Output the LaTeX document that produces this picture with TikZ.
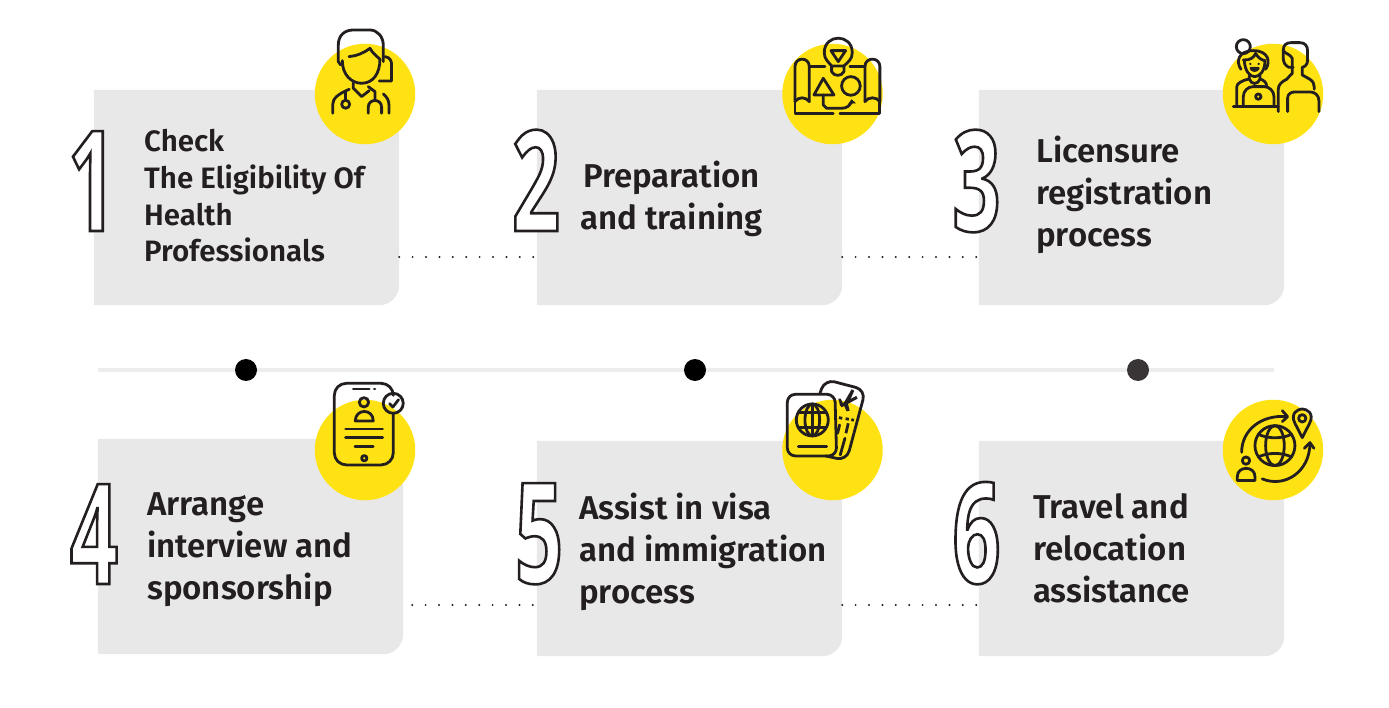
\documentclass[tikz,border=0pt]{standalone}
\usepackage{fontspec}
\setmainfont{Fira Sans}[BoldFont=* SemiBold]
\newfontfamily\digitfont{Open Sans}[FakeStretch=0.6]
\definecolor{ink}{HTML}{231F20}
\definecolor{cardgray}{HTML}{E8E8E9}
\definecolor{sun}{HTML}{FFE213}
\definecolor{railgray}{HTML}{EDEDEE}
% hollow numerals: fill white, stroke ink
\newcommand{\hollowdigit}[1]{{\fontsize{140}{140}\digitfont\bfseries\special{pdf:code 2 Tr 2.6 w 0.137 0.122 0.125 RG 1 1 1 rg}#1\special{pdf:code 0 Tr}}}
\tikzset{
  card/.style={minimum width=305, minimum height=215, inner sep=0},
  badge/.style={circle, fill=sun, minimum size=100.5, inner sep=0},
  numeral/.style={anchor=base, inner sep=0},
  steptext/.style={anchor=north west, inner sep=0, align=left, text=ink, font=\fontsize{33}{42}\selectfont\bfseries},
  railpoint/.style={circle, fill=black, minimum size=22, inner sep=0},
  dotlink/.style={ink, line width=2.2, line cap=round, dash pattern=on 0pt off 13.4pt},
  iconline/.style={draw=ink, line width=2.8, line cap=round, line join=round},
}
\begin{document}
\begin{tikzpicture}[x=1pt, y=-1pt]
  \useasboundingbox (0,0) rectangle (1389,708);

  % cards
  \node[card] (box1) at (246.5,197.5) {};
  \node[card] (box2) at (689.5,197.5) {};
  \node[card] (box3) at (1131.5,197.5) {};
  \node[card] (box4) at (250.5,546.5) {};
  \node[card] (box5) at (689.5,548.5) {};
  \node[card] (box6) at (1131.5,548.5) {};
  \foreach \b in {box1,box2,box3,box4,box5,box6} {
    \fill[cardgray] (\b.north west) -- (\b.north east)
      [rounded corners=20] -- (\b.south east) [sharp corners] -- (\b.south west) -- cycle;
  }

  % dotted links
  \draw[dotlink] ([yshift=-59.5]box1.east) -- ([yshift=-59.5]box2.west);
  \draw[dotlink] ([yshift=-59.5]box2.east) -- ([yshift=-59.5]box3.west);
  \draw[dotlink, dash phase=4.4] ([yshift=-58.5]box4.east) -- ([yshift=-56.5]box5.west);
  \draw[dotlink] ([yshift=-56.5]box5.east) -- ([yshift=-56.5]box6.west);

  % rail
  \coordinate (railstart) at (98,370);
  \coordinate (railend) at (1274,370);
  \draw[railgray, line width=4] (railstart) -- (railend);
  \node[railpoint] (point1) at (246,370) {};
  \node[railpoint] (point2) at (695,370) {};
  \node[railpoint, fill=ink!90] (point3) at (1138,370) {};

  % badges
  \node[badge] (badge1) at (365,94) {};
  \node[badge] (badge2) at (832.5,94) {};
  \node[badge] (badge3) at (1273,94) {};
  \node[badge] (badge4) at (365,450) {};
  \node[badge] (badge5) at (832.5,450) {};
  \node[badge] (badge6) at (1273,450) {};

  % numerals
  \node[numeral] (num1) at (92,231) {\hollowdigit{1}};
  \node[numeral] (num2) at (536,231) {\hollowdigit{2}};
  \node[numeral] (num3) at (976.5,231) {\hollowdigit{3}};
  \node[numeral] (num4) at (94,584) {\hollowdigit{4}};
  \node[numeral] (num5) at (539,583) {\hollowdigit{5}};
  \node[numeral] (num6) at (976.5,583) {\hollowdigit{6}};

  % step texts
  \node[steptext, font=\fontsize{29.5}{36.8}\selectfont\bfseries] (text1) at (144,129)
    {Check\\The Eligibility Of\\Health\\Professionals};
  \node[steptext, align=center, anchor=north] (text2) at (671.5,161) {Preparation\\and training};
  \node[steptext] (text3) at (1036,136) {Licensure\\registration\\process};
  \node[steptext] (text4) at (147,492) {Arrange\\interview and\\sponsorship};
  \node[steptext] (text5) at (579,492.5) {Assist in visa\\and immigration\\process};
  \node[steptext] (text6) at (1033,493) {Travel and\\relocation\\assistance};

  % doctor icon
  \begin{scope}[shift={(320,20)}, x=0.333pt, y=-0.333pt]
    \draw[iconline] (62,135) -- (55,125) -- (55,75) .. controls (55,45) and (75,30) .. (100,30)
      -- (150,30) .. controls (172,30) and (190,50) .. (190,75) -- (190,125);
    \draw[iconline] (67,122) .. controls (67,165) and (95,190) .. (125,190)
      .. controls (160,190) and (180,160) .. (180,118) .. controls (170,108) and (158,100) .. (150,85)
      .. controls (130,100) and (110,108) .. (87,110);
    \draw[iconline] (195,110) .. controls (210,112) and (215,122) .. (215,135) -- (215,183) -- (178,183);
    \draw[iconline] (38,280) -- (38,255) .. controls (38,235) and (55,222) .. (88,208);
    \draw[iconline] (100,188) -- (100,205) -- (125,230) -- (148,212);
    \draw[iconline] (145,200) -- (165,215) -- (165,240);
    \draw[iconline] (145,280) -- (145,262) .. controls (145,235) and (185,235) .. (185,262) -- (185,280);
    \draw[iconline] (190,222) .. controls (202,232) and (207,242) .. (207,255) -- (207,280);
    \draw[iconline] (76,215) -- (76,240);
    \draw[iconline] (77,253) circle (12);
  \end{scope}

  % plan icon
  \begin{scope}[shift={(770,30)}, x=0.333pt, y=-0.333pt]
    \draw[iconline] (75,215) -- (75,110) .. controls (75,80) and (118,80) .. (118,110) -- (118,215);
    \draw[iconline] (75,215) .. controls (85,200) and (108,200) .. (118,215);
    \draw[iconline] (285,215) -- (285,110) .. controls (285,80) and (330,80) .. (330,110) -- (330,215);
    \draw[iconline] (285,215) .. controls (295,200) and (320,200) .. (330,215);
    \draw[iconline] (75,215) -- (75,250) -- (190,250);
    \draw[iconline] (210,250) -- (330,250) -- (330,215);
    \draw[iconline] (118,110) -- (165,110);
    \draw[iconline] (240,110) -- (285,110);
    \draw[iconline] (185,108) .. controls (175,95) and (163,88) .. (163,68)
      .. controls (163,10) and (247,10) .. (247,68) .. controls (247,88) and (235,95) .. (222,108);
    \draw[iconline] (185,108) -- (222,108) -- (222,125) .. controls (215,140) and (192,140) .. (185,125) -- cycle;
    \draw[iconline] (183,62) -- (227,62) -- (205,95) -- cycle;
    \draw[iconline] (160,145) -- (192,195) -- (132,195) -- cycle;
    \draw[iconline] (243,168) circle (28);
    \draw[iconline] (160,195) -- (160,225) -- (170,235) -- (215,235) .. controls (230,235) and (240,228) .. (245,215);
    \fill[ink] (235,222) -- (245,208) -- (258,220) -- cycle;
  \end{scope}

  % interview icon
  \begin{scope}[shift={(1215,30)}, x=0.333pt, y=-0.333pt]
    \draw[iconline] (85,50) circle (21);
    \draw[iconline] (78,118) .. controls (62,95) and (70,62) .. (115,62) .. controls (160,62) and (168,95) .. (152,118);
    \draw[iconline] (88,92) .. controls (90,125) and (105,140) .. (119,140) .. controls (133,140) and (150,125) .. (150,92);
    \draw[iconline] (85,90) .. controls (105,92) and (118,82) .. (122,70) .. controls (128,82) and (138,90) .. (150,92);
    \fill[ink] (106,102) circle (4);
    \fill[ink] (131,102) circle (4);
    \draw[iconline] (108,115) .. controls (114,124) and (124,124) .. (130,115) -- cycle;
    \draw[iconline] (65,225) -- (65,172) .. controls (65,160) and (80,152) .. (103,147) -- (103,137);
    \draw[iconline] (103,147) .. controls (108,165) and (130,165) .. (135,147) -- (135,137);
    \draw[iconline] (135,147) .. controls (146,150) and (155,158) .. (155,168);
    \draw[iconline, rounded corners=10] (85,230) -- (85,170) -- (177,170) -- (177,230);
    \draw[iconline] (55,230) -- (190,230);
    \draw[iconline] (130,200) circle (8);
    \draw[iconline] (235,112) -- (222,112) .. controls (212,108) and (205,98) .. (205,85) -- (205,60)
      .. controls (205,45) and (215,38) .. (228,38) -- (255,38) .. controls (270,38) and (278,48) .. (278,62)
      -- (278,90) .. controls (278,102) and (272,110) .. (262,112) -- (262,135);
    \draw[iconline] (205,62) .. controls (212,72) and (225,72) .. (232,85) -- (232,130);
    \draw[iconline] (190,245) -- (190,178) .. controls (190,165) and (200,155) .. (215,148) -- (232,130);
    \draw[iconline] (262,135) -- (285,148) .. controls (295,155) and (298,162) .. (298,172) -- (298,178);
    \draw[iconline] (218,245) -- (218,205) .. controls (218,192) and (228,186) .. (240,186) -- (285,186)
      .. controls (300,186) and (312,196) .. (312,212) -- (312,245);
  \end{scope}

  % tablet icon
  \begin{scope}[shift={(310,375)}, x=0.333pt, y=-0.333pt]
    \draw[iconline, rounded corners=12] (250,55) -- (250,25) -- (73,25) -- (73,270) -- (250,270) -- (250,115);
    \draw[iconline] (130,42) -- (178,42);
    \draw[iconline] (193,42) -- (195,42);
    \draw[iconline] (162,82) circle (14);
    \draw[iconline] (136,138) .. controls (136,100) and (190,100) .. (190,138) -- cycle;
    \draw[iconline] (107,162) -- (218,162);
    \draw[iconline] (107,188) -- (218,188);
    \draw[iconline] (135,215) -- (190,215);
    \draw[iconline] (163,250) circle (8);
    \draw[iconline] (250,85) circle (30);
    \draw[iconline] (239,86) -- (249,96) -- (266,74);
  \end{scope}

  % passport icon
  \begin{scope}[shift={(775,370)}, x=0.333pt, y=-0.333pt]
    \draw[iconline, rounded corners=8] (37,73) -- (180,73) -- (185,258) -- (37,258) -- cycle;
    \draw[iconline] (112,150) circle (48);
    \draw[iconline] (112,150) ellipse (22 and 48);
    \draw[iconline] (112,102) -- (112,198);
    \draw[iconline] (70,128) -- (154,128);
    \draw[iconline] (70,172) -- (154,172);
    \draw[iconline] (70,230) -- (155,230);
    \draw[iconline, rounded corners=10] (135,70) -- (150,28) -- (272,60) -- (215,272) -- (152,258);
    \fill[ink] (244,78) -- (248,86) -- (200,112) -- (194,104) -- cycle;
    \fill[ink] (230,58) -- (238,62) -- (224,94) -- (208,96) -- cycle;
    \fill[ink] (205,102) -- (218,98) -- (224,122) -- (215,124) -- cycle;
    \fill[ink] (190,86) -- (197,86) -- (206,104) -- (196,108) -- cycle;
    \draw[iconline, line cap=butt] (192,143) -- (202,145);
    \draw[iconline, line cap=butt] (212,146) -- (222,148);
    \draw[iconline, line cap=butt] (229,149) -- (237,151);
    \draw[iconline, line cap=butt] (220,160) -- (213,190);
    \draw[iconline] (210,205) -- (196,255);
    \draw[iconline] (194,165) -- (188,190);
  \end{scope}

  % relocation icon
  \begin{scope}[shift={(1215,395)}, x=0.333pt, y=-0.333pt]
    \draw[iconline] (180,152) circle (60);
    \draw[iconline] (180,152) ellipse (28 and 60);
    \draw[iconline] (130,118) .. controls (160,132) and (200,132) .. (230,118);
    \draw[iconline] (130,186) .. controls (160,172) and (200,172) .. (230,186);
    \draw[iconline] (80,172) .. controls (80,105) and (140,58) .. (216,65);
    \draw[iconline] (202,47) -- (218,65) -- (202,80);
    \draw[iconline] (142,252) .. controls (210,280) and (285,230) .. (285,145);
    \draw[iconline] (268,160) -- (285,143) -- (297,160);
    \draw[iconline] (262,128) -- (240,85) .. controls (225,55) and (248,42) .. (262,42)
      .. controls (276,42) and (299,55) .. (284,85) -- cycle;
    \draw[iconline] (262,70) circle (11);
    \draw[iconline] (93,197) circle (11);
    \draw[iconline] (67,257) -- (67,245) .. controls (67,212) and (120,212) .. (120,245) -- (120,257) -- cycle;
  \end{scope}
\end{tikzpicture}
\end{document}
